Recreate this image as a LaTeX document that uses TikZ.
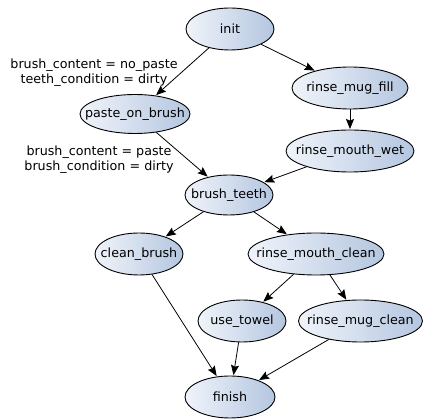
\documentclass[tikz,border=0pt]{standalone}
\usepackage{fontspec}
\setmainfont{DejaVu Sans}
\usetikzlibrary{shapes.geometric,arrows.meta}
\definecolor{lsb}{HTML}{B4C6E0}
\definecolor{lft}{HTML}{F0F4FA}
\newcommand{\zw}[1]{\makebox[0pt]{#1}}
\begin{document}
\begin{tikzpicture}[x=1pt,y=-1pt,
  state/.style={ellipse,draw=black,line width=0.9pt,left color=lft,right color=lsb,
    inner sep=0pt,minimum height=42pt,font=\fontsize{12.7}{15}\selectfont},
  lbl/.style={align=center,font=\fontsize{12.7}{15}\selectfont,inner sep=0pt},
  edge/.style={draw=black,line width=0.8pt,-{Stealth[length=10pt,width=8pt,inset=1.5pt]},shorten >=0.5pt}]
\useasboundingbox (0,0) rectangle (424,419);
\node[state,minimum width=88pt] (init) at (230,29) {\zw{init}};
\node[state,minimum width=116pt] (rmf) at (350,88) {\zw{rinse\_mug\_fill}};
\node[state,minimum width=128pt] (rmw) at (350,151) {\zw{rinse\_mouth\_wet}};
\node[state,minimum width=110pt,minimum height=39pt] (pob) at (135,114) {\zw{paste\_on\_brush}};
\node[state,minimum width=88pt,minimum height=40pt] (bt) at (229,195) {\zw{brush\_teeth}};
\node[state,minimum width=88pt] (cb) at (139,254) {\zw{clean\_brush}};
\node[state,minimum width=136pt] (rmc) at (316,254) {\zw{rinse\_mouth\_clean}};
\node[state,minimum width=88pt] (ut) at (242,321) {\zw{use\_towel}};
\node[state,minimum width=124pt] (rmgc) at (360.5,321) {\zw{rinse\_mug\_clean}};
\node[state,minimum width=90pt] (fin) at (230,397) {\zw{finish}};
\node[lbl] (l1) at (94,72.5) {brush\_content = no\_paste\\teeth\_condition = dirty};
\node[lbl] (l2) at (99,159.5) {brush\_content = paste\\brush\_condition = dirty};
\draw[edge] (init) -- (pob);
\draw[edge] (init) -- (rmf);
\draw[edge] (rmf) -- (rmw);
\draw[edge] (pob) -- (bt);
\draw[edge] (rmw) -- (bt);
\draw[edge] (bt) -- (cb);
\draw[edge] (bt) -- (rmc);
\draw[edge] (rmc) -- (ut);
\draw[edge] (rmc) -- (rmgc);
\draw[edge] (cb) -- (fin);
\draw[edge] (ut) -- (fin);
\draw[edge] (rmgc) -- (fin);
\end{tikzpicture}
\end{document}
